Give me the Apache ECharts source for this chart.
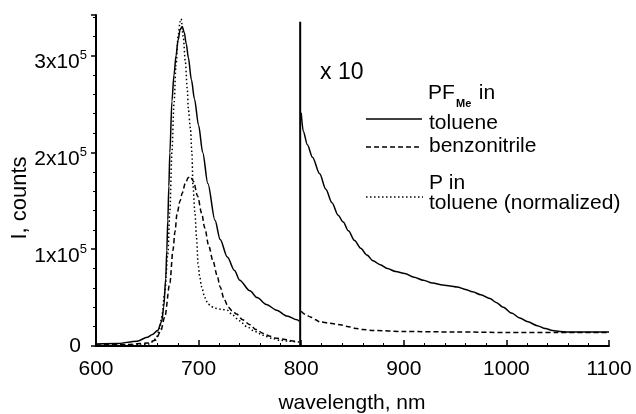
<!DOCTYPE html>
<html><head><meta charset="utf-8">
<script src="https://cdn.jsdelivr.net/npm/echarts@6/dist/echarts.min.js"></script>
<style>html,body{margin:0;padding:0;background:#fff}#c{width:636px;height:414px}</style>
</head><body><div id="c"></div>
<script>
// PF_Me in toluene, 600-800 nm
const tolLeftWl = [600,620,640,650,655,660,664,666,668,669,670,671,672,674,676,678,680,682,684,686,688,690,693,696,700,704,709,716,721,728,735,740,750,757,766,776,786,796,798];
const tolLeftI  = [2000,2500,5000,9000,12000,16000,25000,40000,70000,99000,130000,165000,200000,253000,280000,300000,316000,327000,330000,324000,312000,298000,275000,255000,228000,200000,168000,130000,110000,92000,78000,68000,57000,50000,43000,37000,31000,27000,25500];
// PF_Me in toluene, 800-1100 nm (x 10)
const tolRightWl = [800,802,806,811,818,824,830,836,841,846,852,858,864,870,877,884,892,901,910,919,928,938,945,952,960,967,975,984,990,997,1005,1013,1021,1030,1038,1045,1052,1060,1080,1100];
const tolRightI  = [241000,222000,208000,195000,178000,162000,148000,135000,128000,119000,109000,101000,94000,88000,84000,80000,77000,75000,71000,68000,65000,63000,62000,61000,58500,56000,53000,49000,45000,40000,34000,29000,25000,21000,18000,16000,15000,14500,14500,14500];
// PF_Me in benzonitrile, 600-800 nm
const bzLeftWl = [600,630,650,658,663,667,672,675,677,679,682,684,687,690,692,695,699,703,706,710,714,718,721,725,729,733,737,743,750,756,763,770,776,783,790,798];
const bzLeftI  = [1000,1500,3000,6000,15000,30000,65000,99000,118000,137000,150000,158000,168000,174000,175000,170000,155000,137000,122000,103000,88000,73000,61000,48000,40000,36000,33000,27000,22000,17000,13000,10000,8000,7000,5500,4000];
// PF_Me in benzonitrile, 800-1100 nm (x 10)
const bzRightWl = [800,805,809,814,818,828,838,846,854,860,870,900,950,1000,1050,1100];
const bzRightI  = [36000,32000,30000,27000,25000,23500,22000,20000,18000,17000,16000,15000,14500,14000,14000,14000];
// P in toluene (normalized)
const pWl = [600,640,652,656,659,662,664,667,670,672,674,676,678,680,682,683,685,687,689,690,692,693.5,694.5,696.5,698,699.5,701,703,706,709,712,716,722,728,733,740,747,755,763,771,779,788,796];
const pI  = [500,800,2000,5000,9000,18000,30000,55000,95000,140000,200000,250000,290000,320000,335000,338000,320000,295000,265000,245000,225000,199000,165000,137000,112000,85000,72000,61000,50000,44000,41000,39000,38000,37000,32000,26000,20000,15000,11000,8000,6000,5000,4000];
// divider at 800 nm (x10 section)
const dividerWl = [799,799];
const dividerI  = [0,335000];
// axis ticks
const xTicks = [600,700,800,900,1000,1100];
const yTicks = [0,100000,200000,300000];

const FONT = 'Liberation Sans, Arial, sans-serif';
const zip = (a,b) => a.map((v,i)=>[v,b[i]]);
const lineSeries = (name, wl, I, type) => ({
  name, type:'line', data: zip(wl,I), showSymbol:false, symbol:'none',
  smooth:0.3, smoothMonotone:'x', animation:false, silent:true,
  lineStyle:{color:'#000', width:1.5, type:type}
});

const chart = echarts.init(document.getElementById('c'), null, {renderer:'canvas'});
chart.setOption({
  animation:false,
  backgroundColor:'#fff',
  grid:{left:96, right:27, top:15, bottom:68, containLabel:false},
  xAxis:{
    type:'value', min:xTicks[0], max:xTicks[xTicks.length-1], interval:100,
    axisLine:{show:true, onZero:false, lineStyle:{color:'#000', width:2}},
    axisTick:{show:true, inside:true, length:6, lineStyle:{color:'#000', width:1.5}},
    minorTick:{show:true, splitNumber:5, length:3, lineStyle:{color:'#000', width:1}},
    splitLine:{show:false},
    axisLabel:{color:'#000', fontFamily:FONT, fontSize:21, margin:13, lineHeight:21,
      formatter: v => (xTicks.indexOf(v) >= 0 ? String(v) : '')}
  },
  yAxis:{
    type:'value', min:0, max:342000, interval:100000,
    axisLine:{show:true, onZero:false, lineStyle:{color:'#000', width:2}},
    axisTick:{show:true, inside:false, length:5, lineStyle:{color:'#000', width:1.5}},
    minorTick:{show:true, splitNumber:5, length:3, lineStyle:{color:'#000', width:1}},
    splitLine:{show:false},
    axisLabel:{
      color:'#000', fontFamily:FONT, margin:9, showMaxLabel:false,
      formatter: v => {
        if (v === 0) return '{n|0}{pad|}';
        if (yTicks.indexOf(v) >= 0) return '{n|' + (v/100000) + 'x10}{s|5}';
        return '';
      },
      rich:{
        n:{fontFamily:FONT, fontSize:21, lineHeight:21, verticalAlign:'bottom', color:'#000'},
        s:{fontFamily:FONT, fontSize:13, lineHeight:35, verticalAlign:'middle', color:'#000'},
        pad:{width:6}
      }
    }
  },
  series:[
    lineSeries('tolL', tolLeftWl, tolLeftI, 'solid'),
    lineSeries('tolR', tolRightWl, tolRightI, 'solid'),
    lineSeries('bzL', bzLeftWl, bzLeftI, [5,3]),
    lineSeries('bzR', bzRightWl, bzRightI, [5,3]),
    lineSeries('P', pWl, pI, [1.5,2.5]),
    Object.assign(lineSeries('div', dividerWl, dividerI, 'solid'), {smooth:false, lineStyle:{color:'#000', width:2}})
  ],
  graphic:[
    {type:'text', x:320, y:73, style:{text:'x 10', font:'23px ' + FONT, fill:'#000', verticalAlign:'middle'}},
    {type:'text', x:428, y:93.5, style:{text:'PF', font:'21px ' + FONT, fill:'#000', verticalAlign:'middle'}},
    {type:'text', x:456, y:103.5, style:{text:'Me', font:'bold 11px ' + FONT, fill:'#000', verticalAlign:'middle'}},
    {type:'text', x:473, y:93.5, style:{text:' in', font:'21px ' + FONT, fill:'#000', verticalAlign:'middle'}},
    {type:'line', shape:{x1:366, y1:119, x2:422, y2:119}, style:{stroke:'#000', lineWidth:1.5}},
    {type:'text', x:429, y:123, style:{text:'toluene', font:'21px ' + FONT, fill:'#000', verticalAlign:'middle'}},
    {type:'line', shape:{x1:366, y1:147, x2:422, y2:147}, style:{stroke:'#000', lineWidth:1.5, lineDash:[5,3]}},
    {type:'text', x:429, y:146, style:{text:'benzonitrile', font:'21px ' + FONT, fill:'#000', verticalAlign:'middle'}},
    {type:'text', x:429, y:183.5, style:{text:'P in', font:'21px ' + FONT, fill:'#000', verticalAlign:'middle'}},
    {type:'line', shape:{x1:366, y1:197, x2:423, y2:197}, style:{stroke:'#000', lineWidth:1.5, lineDash:[1.5,2.5]}},
    {type:'text', x:429, y:203, style:{text:'toluene (normalized)', font:'21px ' + FONT, fill:'#000', verticalAlign:'middle'}},
    {type:'text', x:352, y:403, style:{text:'wavelength, nm', font:'21px ' + FONT, fill:'#000', align:'center', verticalAlign:'middle'}},
    {type:'text', x:20, y:198, rotation:Math.PI/2, style:{text:'I, counts', font:'22px ' + FONT, fill:'#000', align:'center', verticalAlign:'middle'}}
  ]
});
</script></body></html>
